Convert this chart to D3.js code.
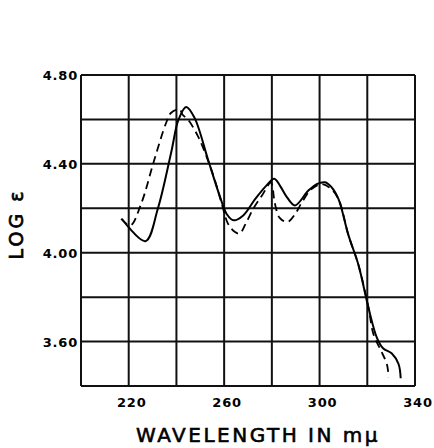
<!DOCTYPE html>
<html>
<head>
<meta charset="utf-8">
<script src="https://cdn.jsdelivr.net/npm/d3@7"></script>
<style>
  body { margin: 0; background: #fff; }
  svg { display: block; }
</style>
</head>
<body>
<div class="mydiv"></div>
<script>
var width = 434;
var height = 448;

// solid curve
var solidWl  = [217.1, 227.0, 232.2, 237.8, 240.9, 244.1, 247.6, 253.2, 258.1, 261.2, 264.0, 268.0, 272.9, 277.5, 281.0, 283.5, 286.0, 289.7, 295.3, 299.0, 302.3, 305.0, 307.9, 312.1, 316.3, 320.5, 324.0, 326.6, 330.3, 333.1, 334.0];
var solidLog = [4.153, 4.052, 4.198, 4.451, 4.600, 4.656, 4.607, 4.421, 4.257, 4.172, 4.146, 4.168, 4.240, 4.300, 4.333, 4.300, 4.255, 4.213, 4.280, 4.310, 4.317, 4.295, 4.242, 4.079, 3.945, 3.752, 3.618, 3.570, 3.546, 3.499, 3.435];

// dashed curve
var dashedWl  = [216.8, 220.7, 225.2, 230.8, 235.7, 237.8, 241.3, 242.7, 244.8, 249.0, 252.5, 256.0, 259.0, 261.6, 264.4, 266.5, 269.0, 272.2, 276.0, 279.6, 281.2, 283.2, 286.5, 289.5, 292.5, 296.5, 300.9, 304.5, 307.9, 312.1, 316.3, 320.5, 322.6, 326.1, 328.2, 329.0];
var dashedLog = [4.153, 4.123, 4.220, 4.421, 4.585, 4.630, 4.644, 4.620, 4.600, 4.525, 4.436, 4.330, 4.220, 4.131, 4.094, 4.086, 4.130, 4.198, 4.260, 4.315, 4.225, 4.158, 4.138, 4.170, 4.225, 4.285, 4.309, 4.290, 4.242, 4.079, 3.945, 3.752, 3.633, 3.551, 3.499, 3.440];

var xTickLabels = [220, 260, 300, 340];
var yTickLabels = [3.60, 4.00, 4.40, 4.80];
var xGrid = [200, 220, 240, 260, 280, 300, 320, 340];
var yGrid = [3.4, 3.6, 3.8, 4.0, 4.2, 4.4, 4.6, 4.8];

var svg = d3.select(".mydiv").append("svg")
            .attr("width", width)
            .attr("height", height);

var x = d3.scaleLinear().domain([200, 340]).range([81, 415]);
var y = d3.scaleLinear().domain([3.4, 4.8]).range([386, 75]);

// grid
svg.append("g").selectAll("line").data(yGrid).enter().append("line")
    .attr("x1", x(200)).attr("x2", x(340))
    .attr("y1", function(d) { return y(d); })
    .attr("y2", function(d) { return y(d); })
    .attr("stroke", "#111")
    .attr("stroke-width", 2);

svg.append("g").selectAll("line").data(xGrid).enter().append("line")
    .attr("x1", function(d) { return x(d); })
    .attr("x2", function(d) { return x(d); })
    .attr("y1", y(4.8)).attr("y2", y(3.4))
    .attr("stroke", "#111")
    .attr("stroke-width", 2);

// tick labels
svg.append("g").selectAll("text").data(yTickLabels).enter().append("text")
    .attr("x", x(200) - 3)
    .attr("y", function(d) { return y(d) + 5; })
    .attr("text-anchor", "end")
    .attr("font-family", "DejaVu Sans")
    .attr("font-weight", "bold")
    .attr("font-size", 13)
    .attr("letter-spacing", 0.8)
    .text(function(d) { return d.toFixed(2); });

svg.append("g").selectAll("text").data(xTickLabels).enter().append("text")
    .attr("x", function(d) { return x(d) + 3; })
    .attr("y", 407)
    .attr("text-anchor", "middle")
    .attr("font-family", "DejaVu Sans")
    .attr("font-weight", "bold")
    .attr("font-size", 13)
    .attr("letter-spacing", 0.8)
    .text(function(d) { return d; });

// axis titles
svg.append("text")
    .attr("x", 258)
    .attr("y", 442)
    .attr("text-anchor", "middle")
    .attr("font-family", "DejaVu Sans")
    .attr("font-size", 20)
    .attr("stroke", "#000")
    .attr("stroke-width", 0.6)
    .attr("letter-spacing", 2.5)
    .text("WAVELENGTH IN mμ");

svg.append("text")
    .attr("transform", "translate(23,224) rotate(-90)")
    .attr("text-anchor", "middle")
    .attr("font-family", "DejaVu Sans")
    .attr("font-size", 19)
    .attr("stroke", "#000")
    .attr("stroke-width", 0.7)
    .attr("letter-spacing", 3)
    .text("LOG ε");

// curves
var line = d3.line()
    .x(function(d) { return x(d[0]); })
    .y(function(d) { return y(d[1]); })
    .curve(d3.curveCatmullRom.alpha(0.5));

svg.append("path")
    .attr("d", line(d3.zip(solidWl, solidLog)))
    .attr("fill", "none")
    .attr("stroke", "#000")
    .attr("stroke-width", 2);

svg.append("path")
    .attr("d", line(d3.zip(dashedWl, dashedLog)))
    .attr("fill", "none")
    .attr("stroke", "#000")
    .attr("stroke-width", 1.8)
    .attr("stroke-dasharray", "8,5");
</script>
</body>
</html>
